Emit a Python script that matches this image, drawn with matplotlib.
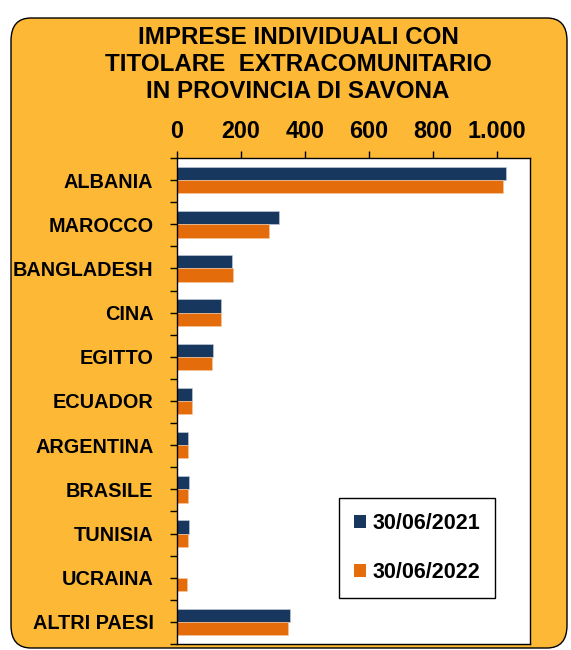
import matplotlib
matplotlib.use("Agg")
import matplotlib.pyplot as plt
import numpy as np
from matplotlib.patches import FancyBboxPatch
from matplotlib.ticker import FixedLocator, FuncFormatter

plt.rcParams['font.family'] = ['Liberation Sans', 'DejaVu Sans']
plt.rcParams['font.weight'] = 'bold'

categories = ["ALBANIA", "MAROCCO", "BANGLADESH", "CINA", "EGITTO", "ECUADOR",
              "ARGENTINA", "BRASILE", "TUNISIA", "UCRAINA", "ALTRI PAESI"]
values_2021 = [1027, 320, 171, 137, 113, 47, 34, 38, 38, 0, 352]
values_2022 = [1019, 287, 176, 137, 108, 47, 34, 34, 34, 30, 348]
series_labels = ["30/06/2021", "30/06/2022"]
xticks = [0, 200, 400, 600, 800, 1000]
title = "IMPRESE INDIVIDUALI CON\nTITOLARE  EXTRACOMUNITARIO\nIN PROVINCIA DI SAVONA"

navy = "#17375E"
orange = "#E46C0A"
gold = "#FDB935"

W, H = 571, 650
fig = plt.figure(figsize=(W / 100, H / 100), dpi=100)
fig.patch.set_facecolor("white")

# rounded frame
frame = FancyBboxPatch((11 / W, 2 / H), (567 - 11) / W, (632 - 2) / H,
                       boxstyle="round,pad=0,rounding_size=0.035",
                       transform=fig.transFigure, facecolor=gold,
                       edgecolor="black", linewidth=1.0, zorder=-10)
fig.patches.append(frame)

fig.text(298 / W, 1 - 64.5 / H, title, ha="center", va="center", fontsize=17.4,
         fontweight="bold", linespacing=1.22, zorder=5)

ax = fig.add_axes([177 / W, 1 - 644 / H, (530 - 177) / W, (644 - 158) / H])
ax.set_zorder(2)
ax.set_facecolor("white")

y = np.arange(len(categories))
h = 0.3
ax.barh(y - h / 2, values_2021, height=h, color=navy, label=series_labels[0],
        edgecolor="#c9d3e0", linewidth=0.4)
ax.barh(y + h / 2, values_2022, height=h, color=orange, label=series_labels[1],
        edgecolor="#f3c9a6", linewidth=0.4)

ax.set_xlim(0, 1103)
ax.set_ylim(len(categories) - 0.5, -0.5)

ax.xaxis.tick_top()
ax.set_xticks(xticks)
ax.xaxis.set_major_formatter(FuncFormatter(lambda v, p: f"{int(v):,}".replace(",", ".")))
ax.tick_params(axis="x", direction="out", length=5, width=1, labelsize=16.8, pad=6)

ax.set_yticks(y)
ax.set_yticklabels(categories)
ax.yaxis.set_minor_locator(FixedLocator(np.arange(len(categories) + 1) - 0.5))
ax.tick_params(axis="y", which="major", direction="out", length=5, width=1,
               labelsize=14.3, pad=12)
ax.tick_params(axis="y", which="minor", direction="out", length=5, width=1)
for lab in ax.get_xticklabels() + ax.get_yticklabels():
    lab.set_fontweight("bold")

for s in ax.spines.values():
    s.set_color("black")
    s.set_linewidth(1.0)

leg = ax.legend(loc="upper left", bbox_to_anchor=(339 / W, 1 - 498 / H),
                bbox_transform=fig.transFigure,
                fontsize=15.5, frameon=True, fancybox=False, edgecolor="black",
                facecolor="white", framealpha=1.0,
                handlelength=0.55, handleheight=0.55, handletextpad=0.3,
                labelspacing=1.3, borderpad=0.7, borderaxespad=0)
leg.get_frame().set_linewidth(1.0)
for t in leg.get_texts():
    t.set_fontweight("bold")
for p in leg.get_patches():
    p.set_edgecolor("none")

fig.savefig("out.png", dpi=100, facecolor="white")
